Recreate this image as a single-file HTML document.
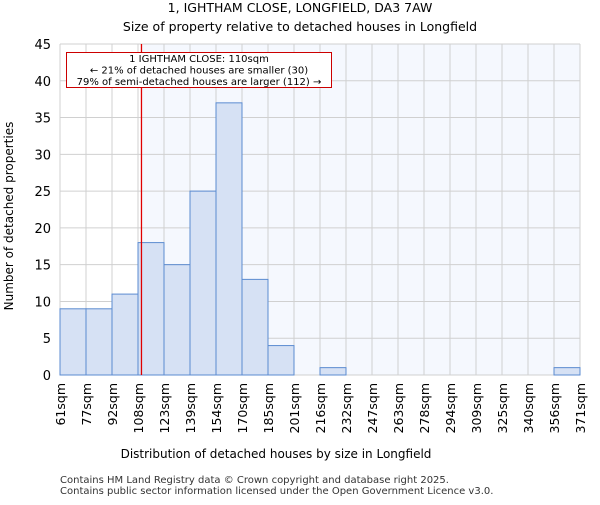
<!DOCTYPE html>
<html><head><meta charset="utf-8"><style>body{margin:0;background:#fff}svg{font-family:"DejaVu Sans","Liberation Sans",sans-serif}</style></head>
<body>
<svg id="c" width="600" height="500" xmlns="http://www.w3.org/2000/svg">
<text x="300" y="12" text-anchor="middle" font-size="12.5">1, IGHTHAM CLOSE, LONGFIELD, DA3 7AW</text>
<text x="300" y="31" text-anchor="middle" font-size="12.5">Size of property relative to detached houses in Longfield</text>
<g id="plot"></g>
<text x="276" y="458" text-anchor="middle" font-size="12">Distribution of detached houses by size in Longfield</text>
<text transform="translate(13,216) rotate(-90)" text-anchor="middle" font-size="12">Number of detached properties</text>
<text x="60" y="483" font-size="10" fill="#333">Contains HM Land Registry data © Crown copyright and database right 2025.</text>
<text x="60" y="494" font-size="10" fill="#333">Contains public sector information licensed under the Open Government Licence v3.0.</text>
</svg>
<script>
const binLabels=["61sqm","77sqm","92sqm","108sqm","123sqm","139sqm","154sqm","170sqm","185sqm","201sqm","216sqm","232sqm","247sqm","263sqm","278sqm","294sqm","309sqm","325sqm","340sqm","356sqm","371sqm"];
const binEdges=[61,77,92,108,123,139,154,170,185,201,216,232,247,263,278,294,309,325,340,356,371];
const counts=[9,9,11,18,15,25,37,13,4,0,1,0,0,0,0,0,0,0,0,1];
const yTicks=[0,5,10,15,20,25,30,35,40,45];
const markerValue=110;
const NS="http://www.w3.org/2000/svg";
const L=60,R=580,T=44,B=375,yMax=45;
const nb=counts.length,bw=(R-L)/nb;
const xi=i=>L+i*bw;
const y=v=>B-(v/yMax)*(B-T);
function xv(v){for(let i=0;i<binEdges.length-1;i++){if(v<=binEdges[i+1])return xi(i)+(v-binEdges[i])/(binEdges[i+1]-binEdges[i])*bw;}return R;}
const g=document.getElementById('plot');
function mk(t,a){const e=document.createElementNS(NS,t);for(const k in a)e.setAttribute(k,a[k]);g.appendChild(e);return e;}
const mx=xv(markerValue);
let e=mk('rect',{x:mx,y:T,width:R-mx,height:B-T,fill:'#f5f8fe'});


for(let i=0;i<=nb;i++){e=mk('line',{x1:xi(i),x2:xi(i),y1:T,y2:B,stroke:'#d0d0d0','stroke-width':1});

}
yTicks.forEach(t=>{e=mk('line',{x1:L,x2:R,y1:y(t),y2:y(t),stroke:'#d0d0d0','stroke-width':1});


e=mk('text',{x:L-9,y:y(t)+5,'text-anchor':'end','font-size':13});e.textContent=t;

});
counts.forEach((c,i)=>{if(c<=0)return;e=mk('rect',{x:xi(i),y:y(c),width:bw,height:B-y(c),fill:'#d6e1f4',stroke:'#5b8bd0','stroke-width':1});

});
binLabels.forEach((s,i)=>{const x=xi(i);e=mk('text',{transform:`translate(${x+5},${B+8}) rotate(-90)`,'text-anchor':'end','font-size':12.5});e.textContent=s;

});
e=mk('line',{x1:mx,x2:mx,y1:T,y2:B,stroke:'#e00000','stroke-width':1.3});


e=mk('rect',{x:66.5,y:52.5,width:265,height:35,fill:'#fff',stroke:'#c00','stroke-width':1});


["1 IGHTHAM CLOSE: 110sqm","← 21% of detached houses are smaller (30)","79% of semi-detached houses are larger (112) →"].forEach((s,i)=>{e=mk('text',{x:199,y:62+i*11.5,'text-anchor':'middle','font-size':10});e.textContent=s;

});
</script>
</body></html>
